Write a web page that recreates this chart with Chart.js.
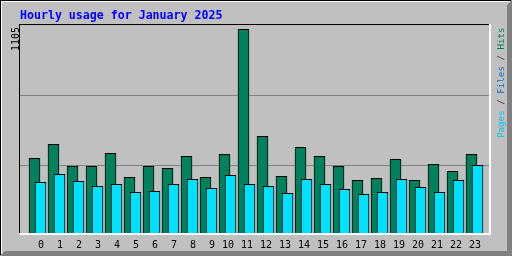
<!DOCTYPE html>
<html>
<head>
<meta charset="utf-8">
<script src="https://cdn.jsdelivr.net/npm/chart.js@4/dist/chart.umd.min.js"></script>
<style>
  html, body { margin: 0; padding: 0; background: #c0c0c0; }
  canvas { display: block; }
</style>
</head>
<body>
<canvas id="hourly" width="512" height="256"></canvas>
<script>
// hourly totals
const hours = [0, 1, 2, 3, 4, 5, 6, 7, 8, 9, 10, 11, 12, 13, 14, 15, 16, 17, 18, 19, 20, 21, 22, 23];
const hourLabels = hours.map(String);
const hits  = [412, 487, 369, 369, 439, 310, 369, 358, 423, 310, 434, 1105, 530, 315, 471, 423, 369, 294, 305, 407, 294, 380, 342, 434];
const pages = [283, 326, 288, 262, 272, 229, 235, 272, 299, 251, 321, 272, 262, 224, 299, 272, 245, 219, 229, 299, 256, 229, 294, 374];
const titleText = 'Hourly usage for January 2025';
const sideLabels = [['Pages', '#00c8f0'], [' / ', '#303030'], ['Files', '#1070c8'], [' / ', '#303030'], ['Hits', '#00805c']];

const HIT_COLOR = '#00805c';
const PAGE_COLOR = '#00e0ff';
const maxHits = Math.max(...hits);
const yMax = maxHits * 210 / 205.7;

const frame = {
    id: 'frame',
    beforeDraw(chart) {
        const c = chart.ctx;
        c.save();
        c.fillStyle = '#c0c0c0';
        c.fillRect(0, 0, 512, 256);
        // bevel
        c.fillStyle = '#808080';
        c.beginPath();
        c.moveTo(512, 0); c.lineTo(512, 256); c.lineTo(0, 256);
        c.lineTo(5, 251); c.lineTo(507, 251); c.lineTo(507, 5);
        c.closePath();
        c.fill();
        c.fillStyle = '#000';
        c.fillRect(0, 0, 511, 1);
        c.fillRect(0, 0, 1, 255);
        c.fillStyle = '#fff';
        c.fillRect(1, 1, 509, 1);
        c.fillRect(1, 1, 1, 253);

        c.fillStyle = '#0000ff';
        c.font = 'bold 11.6px "DejaVu Sans Mono"';
        c.textBaseline = 'alphabetic';
        c.fillText(titleText, 20, 19);

        c.fillStyle = '#000';
        c.font = '10px "DejaVu Sans Mono"';
        c.translate(19, 51);
        c.rotate(-Math.PI / 2);
        c.fillText(String(maxHits), 0, 0);
        c.restore();

        c.save();
        c.font = '9.2px "DejaVu Sans Mono"';
        c.translate(504, 138);
        c.rotate(-Math.PI / 2);
        let x = 0;
        sideLabels.forEach(([t, col]) => {
            c.fillStyle = col;
            c.fillText(t, x, 0);
            x += c.measureText(t).width;
        });
        c.restore();
    },
    afterDatasetsDraw(chart) {
        const c = chart.ctx;
        c.save();
        c.fillStyle = '#000';
        c.fillRect(19, 24, 471, 1);
        c.fillRect(19, 24, 1, 211);
        c.fillStyle = '#fff';
        c.fillRect(19, 233, 472, 2);
        c.fillRect(489, 24, 2, 211);
        c.restore();
    }
};

new Chart(document.getElementById('hourly'), {
    type: 'bar',
    data: {
        datasets: [
            {
                label: 'Hits',
                data: hours.map((h, i) => ({ x: h - 0.5, y: hits[i] })),
                backgroundColor: HIT_COLOR,
                borderColor: '#000',
                borderWidth: 1,
                borderSkipped: false,
                order: 2
            },
            {
                label: 'Pages',
                data: hours.map((h, i) => ({ x: h - 0.184, y: pages[i] })),
                backgroundColor: PAGE_COLOR,
                borderColor: '#000',
                borderWidth: 1,
                borderSkipped: false,
                order: 1
            }
        ]
    },
    options: {
        responsive: false,
        animation: false,
        grouped: false,
        barThickness: 11,
        layout: { padding: { left: 20, top: 25, right: 23, bottom: 0 } },
        plugins: { legend: { display: false }, tooltip: { enabled: false }, title: { display: false } },
        scales: {
            x: {
                type: 'linear',
                offset: false,
                min: -24 / 19,
                max: 445 / 19,
                grid: { display: false, drawTicks: false },
                border: { display: false },
                afterBuildTicks(axis) { axis.ticks = hours.map(h => ({ value: h })); },
                afterFit(axis) { axis.height = 21; },
                ticks: {
                    autoSkip: false,
                    maxRotation: 0,
                    align: 'end',
                    padding: 4,
                    color: '#000',
                    font: { family: '"DejaVu Sans Mono"', size: 10 },
                    callback: (v, i) => hourLabels[i]
                }
            },
            y: {
                min: 0,
                max: yMax,
                border: { display: false },
                grid: {
                    drawTicks: false,
                    color: ctx => (ctx.tick.value > 0 && ctx.tick.value < yMax - 1) ? '#808080' : 'rgba(0,0,0,0)'
                },
                afterBuildTicks(axis) { axis.ticks = [0, 1, 2, 3].map(k => ({ value: yMax * k / 3 })); },
                afterFit(axis) { axis.width = 0; },
                ticks: { display: false }
            }
        }
    },
    plugins: [frame]
});
</script>
</body>
</html>
